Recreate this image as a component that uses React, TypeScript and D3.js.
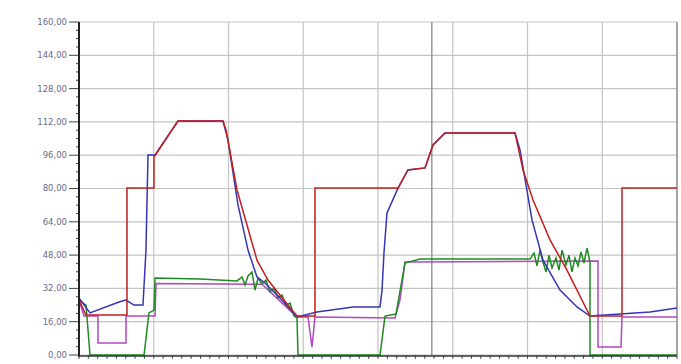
import React from "react";
import * as d3 from "d3";

type P = [number, number];

const yTicks = [0, 16, 32, 48, 64, 80, 96, 112, 128, 144, 160];
const xGrid = [0, 10, 20, 30, 40, 50, 60, 70, 80];
const markerT = 47.2;

const redSeries: P[] = [
  [0, 26.4], [0.94, 19.2], [6.42, 19.2], [6.42, 80.2], [10.03, 80.2], [10.03, 95.1],
  [13.24, 112.4], [19.26, 112.4], [19.67, 108.1], [21.14, 79.3], [23.81, 45.6],
  [25.28, 36.0], [28.49, 21.6], [29.16, 18.7], [31.57, 18.7], [31.57, 80.2],
  [42.68, 80.2], [44.01, 88.9], [46.29, 89.9], [47.36, 100.9], [48.96, 106.7],
  [58.33, 106.7], [59.4, 88.9], [60.74, 74.5], [63.01, 55.3], [65.28, 40.8],
  [68.36, 18.7], [72.64, 18.7], [72.64, 80.2], [80, 80.2],
];

const blueSeries: P[] = [
  [0, 27.4], [1.47, 20.2], [5.35, 25.5], [6.29, 26.4], [7.36, 24.0], [8.56, 24.0],
  [8.96, 50.4], [9.23, 96.1], [10.17, 96.1], [13.24, 112.4], [19.26, 112.4],
  [19.93, 103.3], [21.27, 72.1], [22.61, 50.4], [23.81, 37.5], [24.88, 34.6],
  [26.89, 27.4], [29.16, 18.3], [31.84, 20.7], [36.66, 23.1], [40.27, 23.1],
  [40.54, 31.2], [40.8, 49.0], [41.2, 68.2], [42.68, 80.2], [44.01, 88.9],
  [46.29, 89.9], [47.36, 100.9], [48.96, 106.7], [58.33, 106.7], [59.0, 98.5],
  [60.6, 64.9], [62.07, 45.6], [64.35, 31.2], [66.62, 23.1], [68.36, 18.7],
  [72.37, 19.7], [76.39, 20.7], [80, 22.6],
];

const greenSeries: P[] = [
  [0, 26.4], [0.94, 24.0], [1.47, 0], [8.7, 0], [9.36, 20.2], [10.03, 21.6],
  [10.17, 37.0], [16.19, 36.5], [21.14, 35.6], [21.81, 37.5], [22.21, 33.6],
  [22.61, 38.0], [23.14, 39.9], [23.55, 31.2], [23.95, 37.0], [24.48, 34.1],
  [25.02, 36.0], [25.55, 30.3], [26.09, 32.2], [26.62, 27.4], [27.16, 28.8],
  [27.69, 24.0], [28.23, 25.0], [28.76, 18.7], [29.16, 17.8], [29.3, 0],
  [40.27, 0], [40.94, 18.7], [42.41, 19.7], [43.61, 44.2], [45.62, 46.1],
  [60.33, 46.1], [60.87, 49.0], [61.27, 42.8], [61.67, 50.4], [62.07, 44.7],
  [62.48, 39.9], [62.88, 48.0], [63.28, 41.8], [63.81, 46.6], [64.21, 40.8],
  [64.62, 50.4], [65.15, 43.2], [65.55, 48.0], [65.95, 39.9], [66.35, 46.6],
  [66.76, 42.8], [67.16, 49.5], [67.56, 44.2], [67.96, 51.4], [68.36, 44.7],
  [68.36, 0], [80, 0],
];

const purpleSeries: P[] = [
  [0, 26.4], [0.67, 18.7], [2.54, 18.7], [2.54, 5.8], [6.29, 5.8], [6.29, 18.7],
  [10.17, 18.7], [10.3, 34.3], [24.48, 34.0], [29.16, 18.3], [30.64, 18.3],
  [31.17, 3.8], [31.57, 18.3], [42.27, 17.8], [42.94, 26.4], [43.61, 44.7],
  [69.43, 45.2], [69.43, 3.8], [72.51, 3.8], [72.64, 18.3], [80, 18.3],
];

const W = 681;
const H = 364;
const x = d3.scaleLinear().domain([0, 80]).range([79, 677]);
const y = d3.scaleLinear().domain([0, 160]).range([355, 22]);
const line = d3.line<P>().x((d) => x(d[0])).y((d) => y(d[1]));

export default function App() {
  const yMinor = d3.range(0, 160.01, 4);
  const xMinor = d3.range(0, 80.01, 1.25);
  const fmt = (v: number) => v.toFixed(2).replace(".", ",");
  return (
    <svg
      width={W}
      height={H}
      style={{ position: "absolute", left: 0, top: 0, background: "#fff" }}
      fontFamily="'DejaVu Sans', sans-serif"
    >
      <rect x={0} y={0} width={W} height={H} fill="#fff" />
      {yTicks.map((t) => (
        <line key={"gy" + t} x1={x(0)} x2={x(80)} y1={y(t)} y2={y(t)} stroke="#c4c4c4" strokeWidth={1.2} />
      ))}
      {xGrid.map((t) => (
        <line key={"gx" + t} x1={x(t)} x2={x(t)} y1={y(160)} y2={y(0)} stroke={t === 80 ? "#888" : "#c4c4c4"} strokeWidth={t === 80 ? 1.5 : 1.2} />
      ))}
      <line x1={x(markerT)} x2={x(markerT)} y1={y(160)} y2={y(0)} stroke="#8a8a8a" strokeWidth={1.3} />
      <path d={line(purpleSeries) || ""} fill="none" stroke="#b048c0" strokeWidth={1.5} />
      <path d={line(greenSeries) || ""} fill="none" stroke="#1f8a22" strokeWidth={1.5} />
      <path d={line(blueSeries) || ""} fill="none" stroke="#3535b5" strokeWidth={1.5} />
      <path d={line(redSeries) || ""} fill="none" stroke="#c41e1e" strokeWidth={1.5} />
      {yMinor.map((t) => (
        <line key={"ym" + t} x1={x(0) - (t % 16 === 0 ? 10 : 3)} x2={x(0)} y1={y(t)} y2={y(t)} stroke="#444" strokeWidth={1} />
      ))}
      {xMinor.map((t) => (
        <line key={"xm" + t} x1={x(t)} x2={x(t)} y1={y(0)} y2={y(0) + 4} stroke="#555" strokeWidth={1} />
      ))}
      <line x1={x(0)} x2={x(0)} y1={y(160)} y2={y(0) + 2} stroke="#222" strokeWidth={2} />
      <line x1={x(0)} x2={x(80)} y1={y(0) + 1} y2={y(0) + 1} stroke="#333" strokeWidth={1.5} />
      {yTicks.map((t) => (
        <text key={"ly" + t} x={67} y={y(t)} dy="0.35em" textAnchor="end" fontSize={8.5} fill="#6a6a88">
          {fmt(t)}
        </text>
      ))}
    </svg>
  );
}
